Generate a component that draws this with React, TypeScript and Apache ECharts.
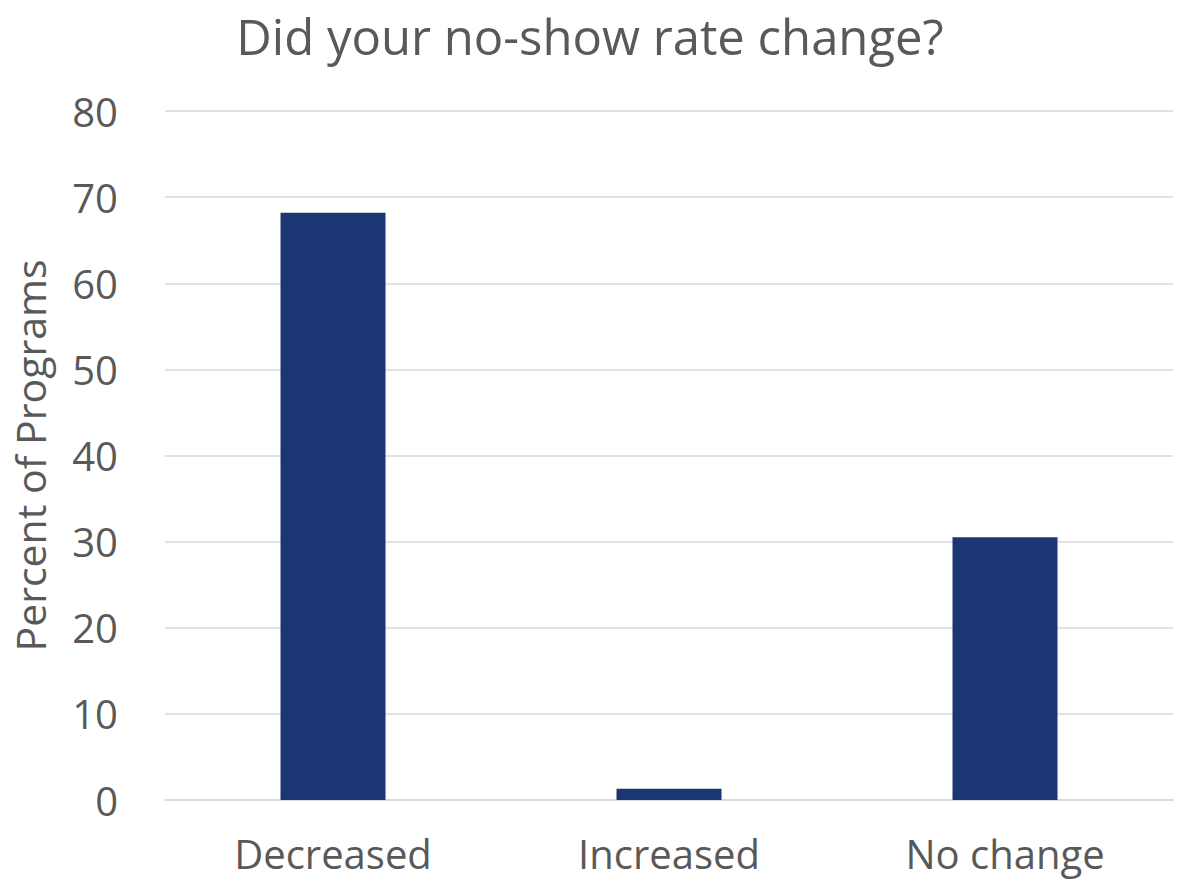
import React, { useEffect, useRef } from "react";
import * as echarts from "echarts";

const categories = ["Decreased", "Increased", "No change"];
const percents = [68.2, 1.3, 30.5];
const yTicks = { min: 0, max: 80, interval: 10 };
const titleText = "Did your no-show rate change?";
const yAxisTitle = "Percent of Programs";

const TEXT = "#595959";
const GRID = "#d9d9d9";
const BAR = "#1b3773";
const FONT = "'Open Sans', 'Noto Sans', sans-serif";

export default function App() {
  const ref = useRef<HTMLDivElement>(null);

  useEffect(() => {
    if (!ref.current) return;
    const chart = echarts.init(ref.current, null, { renderer: "svg" });
    chart.setOption({
      animation: false,
      backgroundColor: "#ffffff",
      title: {
        text: titleText,
        left: "center",
        top: 10,
        padding: 0,
        textStyle: { color: TEXT, fontFamily: FONT, fontSize: 49, lineHeight: 52, fontWeight: "normal" },
      },
      grid: { left: 165, right: 7, top: 111, bottom: 84, containLabel: false },
      xAxis: {
        type: "category",
        data: categories,
        axisLine: { show: true, lineStyle: { color: GRID, width: 1.5 } },
        axisTick: { show: false },
        axisLabel: { color: TEXT, fontFamily: FONT, fontSize: 40, lineHeight: 42, margin: 32 },
      },
      yAxis: {
        type: "value",
        min: yTicks.min,
        max: yTicks.max,
        interval: yTicks.interval,
        name: yAxisTitle,
        nameLocation: "middle",
        nameGap: 115,
        nameTextStyle: { color: TEXT, fontFamily: FONT, fontSize: 41 },
        axisLine: { show: false },
        axisTick: { show: false },
        splitLine: { lineStyle: { color: GRID, width: 1.5 } },
        axisLabel: { color: TEXT, fontFamily: FONT, fontSize: 40, margin: 47 },
      },
      series: [
        {
          type: "bar",
          data: percents,
          barWidth: 105,
          itemStyle: { color: BAR },
        },
      ],
    });
    return () => chart.dispose();
  }, []);

  return (
    <div
      ref={ref}
      style={{ position: "fixed", left: 0, top: 0, width: 1180, height: 884, background: "#fff" }}
    />
  );
}
